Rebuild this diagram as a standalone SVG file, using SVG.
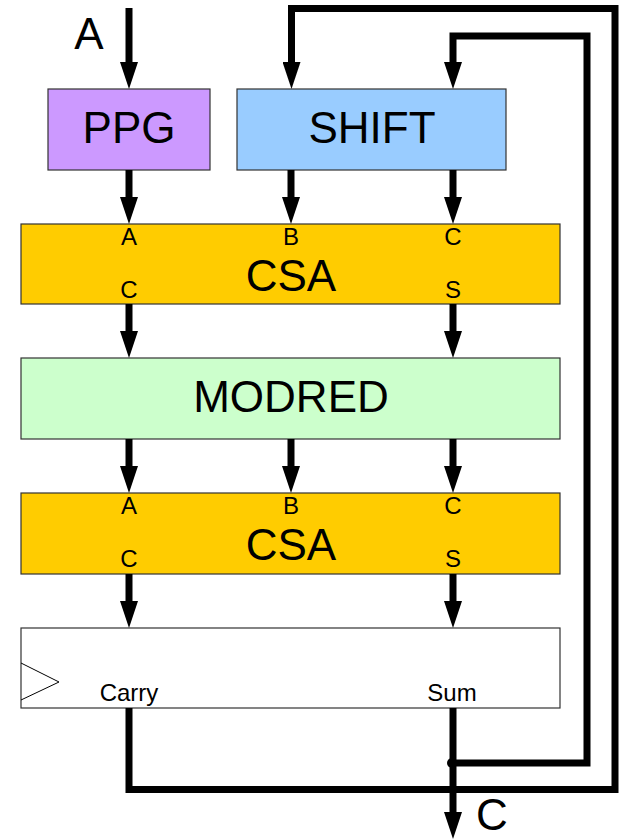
<svg xmlns="http://www.w3.org/2000/svg" width="620" height="839" viewBox="0 0 620 839">
  <style>
    .box { stroke: #333; stroke-width: 1.2; }
    .big { font-family: "Liberation Sans", Arial, sans-serif; font-size: 44px; text-anchor: middle; fill: #000; }
    .port { font-family: "Liberation Sans", Arial, sans-serif; font-size: 24px; text-anchor: middle; fill: #000; }
    .wire { fill: none; stroke: #000; stroke-width: 7; stroke-linejoin: miter; }
    .arrow { marker-end: url(#head); }
  </style>
  <defs>
    <marker id="head" markerUnits="userSpaceOnUse" markerWidth="28" markerHeight="18" viewBox="0 0 27 18" refX="15" refY="9" orient="auto">
      <path d="M0,0 L27,9 L0,18 z" fill="#000"/>
    </marker>
  </defs>
  <rect width="620" height="839" fill="#fff"/>

  <text class="big" x="89" y="49">A</text>
  <text class="big" x="492" y="830">C</text>

  <g id="ppg">
    <rect class="box" x="48" y="89" width="162" height="81" fill="#cc99ff"/>
    <text class="big" x="129" y="143">PPG</text>
  </g>
  <g id="shift">
    <rect class="box" x="237" y="89" width="269" height="81" fill="#99ccff"/>
    <text class="big" x="372" y="143">SHIFT</text>
  </g>
  <g id="csa1">
    <rect class="box" x="21" y="224" width="539" height="80" fill="#ffcc00"/>
    <text class="port" x="129" y="245">A</text>
    <text class="port" x="291" y="245">B</text>
    <text class="port" x="453" y="245">C</text>
    <text class="big" x="291" y="291">CSA</text>
    <text class="port" x="129" y="298">C</text>
    <text class="port" x="453" y="298">S</text>
  </g>
  <g id="modred">
    <rect class="box" x="21" y="358" width="539" height="81" fill="#ccffcc"/>
    <text class="big" x="291" y="412">MODRED</text>
  </g>
  <g id="csa2">
    <rect class="box" x="21" y="493" width="539" height="81" fill="#ffcc00"/>
    <text class="port" x="129" y="514">A</text>
    <text class="port" x="291" y="514">B</text>
    <text class="port" x="453" y="514">C</text>
    <text class="big" x="291" y="560">CSA</text>
    <text class="port" x="129" y="567">C</text>
    <text class="port" x="453" y="567">S</text>
  </g>
  <g id="register">
    <rect class="box" x="21" y="628" width="539" height="80" fill="#fff"/>
    <polyline points="21,663 59,682 21,700" fill="none" stroke="#000" stroke-width="1"/>
    <text class="port" x="129" y="701">Carry</text>
    <text class="port" x="452" y="701">Sum</text>
  </g>

  <g id="connectors">
    <path class="wire arrow" d="M129,8 V77"/>
    <path class="wire arrow" d="M129,708 V789.5 H615 V8.5 H291.5 V77"/>
    <path class="wire arrow" d="M453,708 V827"/>
    <path class="wire arrow" d="M453,763 H587 V36 H453 V77"/>
    <circle cx="452" cy="763" r="5" fill="#000"/>
    <path class="wire arrow" d="M129,170 V212"/>
    <path class="wire arrow" d="M291,170 V212"/>
    <path class="wire arrow" d="M453,170 V212"/>
    <path class="wire arrow" d="M129,304 V346"/>
    <path class="wire arrow" d="M453,304 V346"/>
    <path class="wire arrow" d="M129,439 V481"/>
    <path class="wire arrow" d="M291,439 V481"/>
    <path class="wire arrow" d="M453,439 V481"/>
    <path class="wire arrow" d="M129,574 V616"/>
    <path class="wire arrow" d="M453,574 V616"/>
  </g>
</svg>
